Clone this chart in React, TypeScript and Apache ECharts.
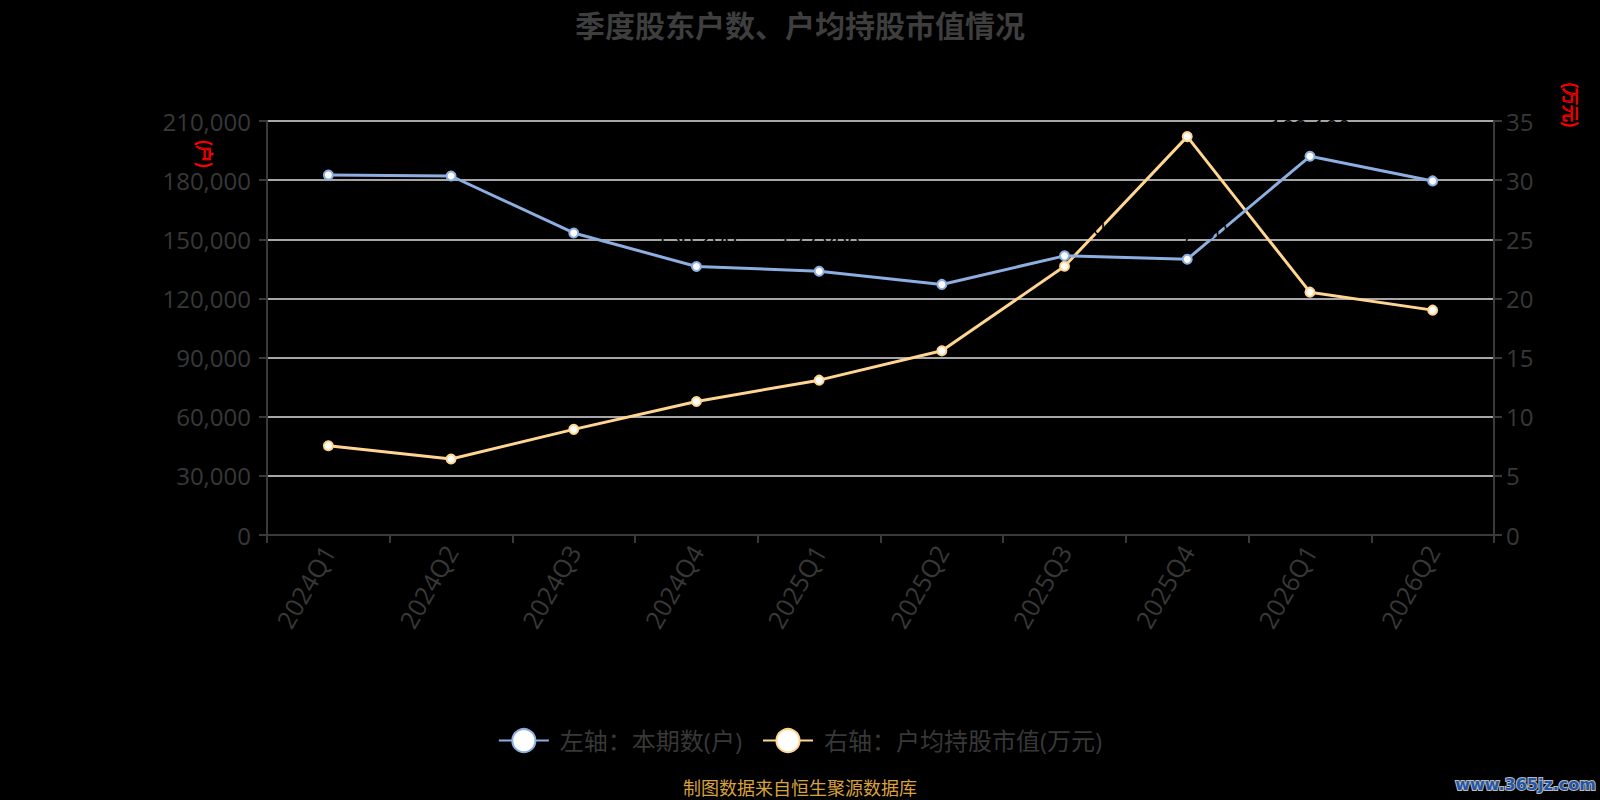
import React, { useEffect, useRef } from "react";
import * as echarts from "echarts";

const categories = ["2024Q1", "2024Q2", "2024Q3", "2024Q4", "2025Q1", "2025Q2", "2025Q3", "2025Q4", "2026Q1", "2026Q2"];
const holders = [182600, 182100, 153200, 136200, 133800, 127100, 141600, 139900, 192100, 179600];
const avgValue = [7.55, 6.42, 8.93, 11.29, 13.09, 15.57, 22.72, 33.68, 20.53, 19.01];
const seriesNames = ["左轴：本期数(户)", "右轴：户均持股市值(万元)"];
const titleText = "季度股东户数、户均持股市值情况";
const leftAxisName = "(户)";
const rightAxisName = "(万元)";
const sourceText = "制图数据来自恒生聚源数据库";
const watermarkText = "www.365jz.com";

const FONT = "'Open Sans', 'Noto Sans CJK SC', sans-serif";
const BLUE = "#8caee0";
const ORANGE = "#ffd591";
const LABEL_GRAY = "#383838";

export default function App() {
  const ref = useRef<HTMLDivElement>(null);
  useEffect(() => {
    document.body.style.margin = "0";
    document.body.style.background = "#000";
    const chart = echarts.init(ref.current!, null, { renderer: "svg" });
    chart.setOption({
      animation: false,
      backgroundColor: "#000",
      textStyle: { fontFamily: FONT },
      title: {
        text: titleText,
        left: "center",
        top: 4,
        textStyle: { fontSize: 30, fontWeight: "bold", color: "#3e3e3e", fontFamily: "'Noto Sans CJK SC', sans-serif" },
      },
      grid: { left: 267, right: 106, top: 121, bottom: 265 },
      legend: {
        data: seriesNames,
        left: "center",
        top: 723,
        itemWidth: 50,
        itemHeight: 29,
        itemGap: 20,
        textStyle: { fontSize: 24, color: LABEL_GRAY, padding: [0, 0, 0, 6] },
      },
      xAxis: {
        type: "category",
        data: categories,
        boundaryGap: true,
        axisLine: { show: true, lineStyle: { color: "#3a3a3a", width: 2 } },
        axisTick: { show: true, length: 8, lineStyle: { color: "#3a3a3a", width: 2 } },
        axisLabel: { rotate: 60, fontSize: 25, color: LABEL_GRAY, margin: 12 },
        splitLine: { show: false },
      },
      yAxis: [
        {
          type: "value",
          min: 0,
          max: 210000,
          interval: 30000,
          position: "left",
          axisLine: { show: true, lineStyle: { color: "#3a3a3a", width: 2 } },
          axisTick: { show: true, length: 8, lineStyle: { color: "#3a3a3a", width: 2 } },
          axisLabel: {
            fontSize: 24,
            color: LABEL_GRAY,
            margin: 16,
            formatter: (v: number) => v.toLocaleString("en-US"),
          },
          splitLine: { show: true, lineStyle: { color: "#dedede", width: 1.6 } },
        },
        {
          type: "value",
          min: 0,
          max: 35,
          interval: 5,
          position: "right",
          axisLine: { show: true, lineStyle: { color: "#3a3a3a", width: 2 } },
          axisTick: { show: true, length: 8, lineStyle: { color: "#3a3a3a", width: 2 } },
          axisLabel: { fontSize: 24, color: LABEL_GRAY, margin: 12 },
          splitLine: { show: false },
        },
      ],
      series: [
        {
          name: seriesNames[0],
          type: "line",
          yAxisIndex: 0,
          data: holders,
          symbol: "circle",
          symbolSize: 9,
          lineStyle: { color: BLUE, width: 3 },
          itemStyle: { color: "#fff", borderColor: BLUE, borderWidth: 2 },
          label: {
            show: true,
            position: "top",
            distance: 13,
            fontSize: 22,
            color: "#000",
            formatter: (p: any) => Number(p.value).toLocaleString("en-US"),
          },
          z: 3,
        },
        {
          name: seriesNames[1],
          type: "line",
          yAxisIndex: 1,
          data: avgValue,
          symbol: "circle",
          symbolSize: 9,
          lineStyle: { color: ORANGE, width: 3 },
          itemStyle: { color: "#fff", borderColor: ORANGE, borderWidth: 2 },
          label: { show: false },
          z: 2,
        },
      ],
      graphic: [
        {
          type: "text",
          x: 205,
          y: 154,
          rotation: -Math.PI / 2,
          style: {
            text: leftAxisName,
            fontSize: 17,
            fontFamily: "'Noto Sans CJK SC', sans-serif",
            fill: "rgba(0,0,0,0)",
            stroke: "#ff0000",
            lineWidth: 1,
            align: "center",
            verticalAlign: "middle",
          },
        },
        {
          type: "text",
          x: 1571,
          y: 105,
          rotation: -Math.PI / 2,
          style: {
            text: rightAxisName,
            fontSize: 17,
            fontFamily: "'Noto Sans CJK SC', sans-serif",
            fill: "rgba(0,0,0,0)",
            stroke: "#ff0000",
            lineWidth: 1,
            align: "center",
            verticalAlign: "middle",
          },
        },
        {
          type: "text",
          x: 800,
          y: 787,
          style: {
            text: sourceText,
            fontSize: 18,
            fontFamily: "'Noto Sans CJK SC', sans-serif",
            fill: "#d9a23c",
            align: "center",
            verticalAlign: "middle",
          },
        },
        {
          type: "text",
          x: 1596,
          y: 784,
          style: {
            text: watermarkText,
            fontSize: 16,
            fontWeight: "bold",
            fontFamily: "'DejaVu Sans', sans-serif",
            fill: "#2356a8",
            stroke: "#bbbbbb",
            lineWidth: 2,
            align: "right",
            verticalAlign: "middle",
          },
        },
      ],
    });
    return () => chart.dispose();
  }, []);
  return <div ref={ref} style={{ width: 1600, height: 800 }} />;
}
